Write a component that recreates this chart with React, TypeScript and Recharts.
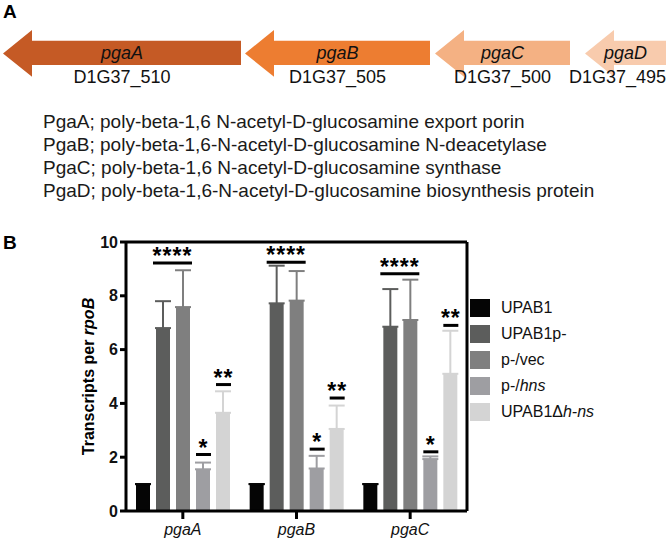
import { Bar, BarChart, ErrorBar, LabelList, Legend, XAxis, YAxis } from "recharts";

const FONT = '"Liberation Sans", Arial, sans-serif';

// ---- panel A: pga operon map (map units, left to right) ----
const geneNames = ["pgaA", "pgaB", "pgaC", "pgaD"];
const locusTags = ["D1G37_510", "D1G37_505", "D1G37_500", "D1G37_495"];
const geneLengths = [238, 185, 135, 81];
const spacerLengths = [3, 4, 5, 15];
const geneColors = ["#c55a25", "#ed7d31", "#f4b183", "#f8cbad"];
const descriptions = [
  "PgaA; poly-beta-1,6 N-acetyl-D-glucosamine export porin",
  "PgaB; poly-beta-1,6-N-acetyl-D-glucosamine N-deacetylase",
  "PgaC; poly-beta-1,6 N-acetyl-D-glucosamine synthase",
  "PgaD; poly-beta-1,6-N-acetyl-D-glucosamine biosynthesis protein",
];

// ---- panel B: transcripts per rpoB ----
const genes = ["pgaA", "pgaB", "pgaC"];
const upab1 = [1, 1, 1];
const upab1Err = [0, 0, 0];
const upab1p = [6.8, 7.72, 6.85];
const upab1pErr = [1.0, 1.4, 1.4];
const vec = [7.58, 7.82, 7.1];
const vecErr = [1.37, 1.1, 1.5];
const hns = [1.55, 1.58, 1.93];
const hnsErr = [0.25, 0.47, 0.1];
const delta = [3.65, 3.05, 5.1];
const deltaErr = [0.8, 0.87, 1.6];

const sigUpab1p = [9.22, 9.25, 8.82];
const sigHns = [2.1, 2.3, 2.2];
const sigDelta = [4.7, 4.2, 6.9];

const yTicks = [0, 2, 4, 6, 8, 10];

const series = [
  { key: "upab1", plain: "UPAB1", italic: "", color: "#050505", values: upab1, errs: upab1Err },
  { key: "upab1p", plain: "UPAB1p-", italic: "", color: "#5c5d5c", values: upab1p, errs: upab1pErr },
  { key: "vec", plain: "p-/vec", italic: "", color: "#7f7f7f", values: vec, errs: vecErr },
  { key: "hns", plain: "p-/", italic: "hns", color: "#9e9ea2", values: hns, errs: hnsErr },
  { key: "delta", plain: "UPAB1Δ", italic: "h-ns", color: "#d4d4d4", values: delta, errs: deltaErr },
];

const operonRow: Record<string, string | number> = { row: "operon" };
geneNames.forEach((_, i) => {
  operonRow[`s${i}`] = spacerLengths[i];
  operonRow[`g${i}`] = geneLengths[i];
});

const rows = genes.map((gene, i) => {
  const r: Record<string, unknown> = { gene };
  series.forEach((s) => {
    r[s.key] = s.values[i];
    r[`${s.key}Err`] = [0, s.errs[i]];
  });
  return r;
});

const BAR_SIZE = 14;
const BAR_GAP = 6;
const ARROW_H = 52;

function GeneArrow(props: any) {
  const { x, y, width, height, fill } = props;
  const head = 29;
  const t = y + height * 0.23;
  const b = y + height * 0.75;
  const pts = [
    [x, y + height / 2],
    [x + head, y],
    [x + head, t],
    [x + width, t],
    [x + width, b],
    [x + head, b],
    [x + head, y + height],
  ]
    .map((p) => p.join(","))
    .join(" ");
  return <polygon points={pts} fill={fill} />;
}

function geneLabel(i: number) {
  return (p: any) => {
    const cx = p.x + p.width / 2;
    const cy = p.y + p.height / 2;
    const nearEdge = cx + 50 > 666;
    return (
      <g fontFamily={FONT} fill="#111">
        <text x={cx} y={cy} textAnchor="middle" dominantBaseline="central" fontSize={18} fontStyle="italic">
          {geneNames[i]}
        </text>
        <text
          x={nearEdge ? 666 : cx}
          y={cy + 24}
          textAnchor={nearEdge ? "end" : "middle"}
          dominantBaseline="central"
          fontSize={18}
        >
          {locusTags[i]}
        </text>
      </g>
    );
  };
}

function sigMark(values: number[], levels: number[], stars: string, span: number) {
  return (p: any) => {
    const { x, y, width, height, index } = p;
    const v = values[index];
    if (!v) return null;
    const base = y + height;
    const ly = base - (levels[index] * height) / v;
    const x1 = span > 1 ? x - 3 : x;
    const x2 = x + width * span + BAR_GAP * (span - 1) + (span > 1 ? 2 : 1);
    return (
      <g>
        <line x1={x1} x2={x2} y1={ly} y2={ly} stroke="#000" strokeWidth={3} />
        <text
          x={(x1 + x2) / 2}
          y={ly + 1}
          textAnchor="middle"
          fontFamily={FONT}
          fontWeight="bold"
          fontSize={23}
          letterSpacing={1}
          fill="#000"
        >
          {stars}
        </text>
      </g>
    );
  };
}

function YLabel(p: any) {
  const vb = p.viewBox || {};
  const cy = (vb.y ?? 22) + (vb.height ?? 269) / 2;
  return (
    <text
      x={88}
      y={cy}
      transform={`rotate(-90 88 ${cy})`}
      textAnchor="middle"
      dominantBaseline="central"
      fontFamily={FONT}
      fontWeight="bold"
      fontSize={16}
      fill="#000"
    >
      Transcripts per <tspan fontStyle="italic">rpoB</tspan>
    </text>
  );
}

function LegendBox() {
  return (
    <div style={{ fontFamily: FONT, fontSize: 16, color: "#111" }}>
      {series.map((s) => (
        <div key={s.key} style={{ display: "flex", alignItems: "center", height: 26 }}>
          <span style={{ display: "inline-block", width: 20, height: 18, background: s.color, marginRight: 11 }} />
          <span>
            {s.plain}
            {s.italic && <i>{s.italic}</i>}
          </span>
        </div>
      ))}
    </div>
  );
}

export default function App() {
  const axisStroke = { stroke: "#000", strokeWidth: 3 };
  return (
    <div style={{ position: "absolute", left: 0, top: 0, width: 666, height: 540, background: "#fff", fontFamily: FONT }}>
      <div style={{ position: "absolute", left: 3, top: 2, fontSize: 19, fontWeight: "bold", lineHeight: 1 }}>A</div>
      <div style={{ position: "absolute", left: 3, top: 233, fontSize: 19, fontWeight: "bold", lineHeight: 1 }}>B</div>

      <div style={{ position: "absolute", left: 0, top: 0 }}>
        <BarChart
          width={666}
          height={100}
          layout="vertical"
          data={[operonRow]}
          margin={{ top: 27, right: 0, bottom: 21, left: 0 }}
          barCategoryGap={0}
          barSize={ARROW_H}
        >
          <XAxis type="number" domain={[0, 666]} hide allowDataOverflow />
          <YAxis type="category" dataKey="row" hide />
          {geneNames.flatMap((g, i) => [
            <Bar key={`s${i}`} dataKey={`s${i}`} stackId="map" fill="none" isAnimationActive={false} />,
            <Bar
              key={g}
              dataKey={`g${i}`}
              stackId="map"
              fill={geneColors[i]}
              shape={GeneArrow}
              isAnimationActive={false}
            >
              <LabelList dataKey={`g${i}`} content={geneLabel(i)} />
            </Bar>,
          ])}
        </BarChart>
      </div>

      <div
        style={{
          position: "absolute",
          left: 43,
          top: 110,
          fontSize: 19,
          lineHeight: "23px",
          color: "#1a1a1a",
          whiteSpace: "nowrap",
        }}
      >
        {descriptions.map((d) => (
          <div key={d}>{d}</div>
        ))}
      </div>

      <div style={{ position: "absolute", left: 0, top: 220 }}>
        <BarChart
          width={666}
          height={320}
          data={rows}
          margin={{ top: 20, right: 197, bottom: 0, left: 0 }}
          barSize={BAR_SIZE}
          barGap={BAR_GAP}
        >
          <XAxis
            dataKey="gene"
            height={29}
            axisLine={axisStroke}
            tickLine={axisStroke}
            tickSize={8}
            tickMargin={5}
            tick={{ fontSize: 16, fontStyle: "italic", fill: "#111", fontFamily: FONT }}
          />
          <XAxis xAxisId="top" orientation="top" dataKey="gene" height={2} tick={false} tickLine={false} axisLine={axisStroke} />
          <YAxis
            width={126}
            domain={[0, 10]}
            ticks={yTicks}
            axisLine={axisStroke}
            tickLine={axisStroke}
            tickSize={6}
            tickMargin={2}
            tick={{ fontSize: 16, fontWeight: "bold", fill: "#111", fontFamily: FONT }}
            label={<YLabel />}
          />
          <YAxis yAxisId="right" orientation="right" domain={[0, 10]} width={2} tick={false} tickLine={false} axisLine={axisStroke} />
          <Legend layout="vertical" align="center" verticalAlign="middle" wrapperStyle={{ left: 470, top: 75, width: 180 }} content={() => <LegendBox />} />
          {series.map((s) => (
            <Bar key={s.key} dataKey={s.key} name={s.plain + s.italic} fill={s.color} isAnimationActive={false}>
              <ErrorBar dataKey={`${s.key}Err`} width={8} stroke={s.color} strokeWidth={2} direction="y" />
              {s.key === "upab1p" && <LabelList dataKey={s.key} content={sigMark(upab1p, sigUpab1p, "****", 2)} />}
              {s.key === "hns" && <LabelList dataKey={s.key} content={sigMark(hns, sigHns, "*", 1)} />}
              {s.key === "delta" && <LabelList dataKey={s.key} content={sigMark(delta, sigDelta, "**", 1)} />}
            </Bar>
          ))}
        </BarChart>
      </div>
    </div>
  );
}
